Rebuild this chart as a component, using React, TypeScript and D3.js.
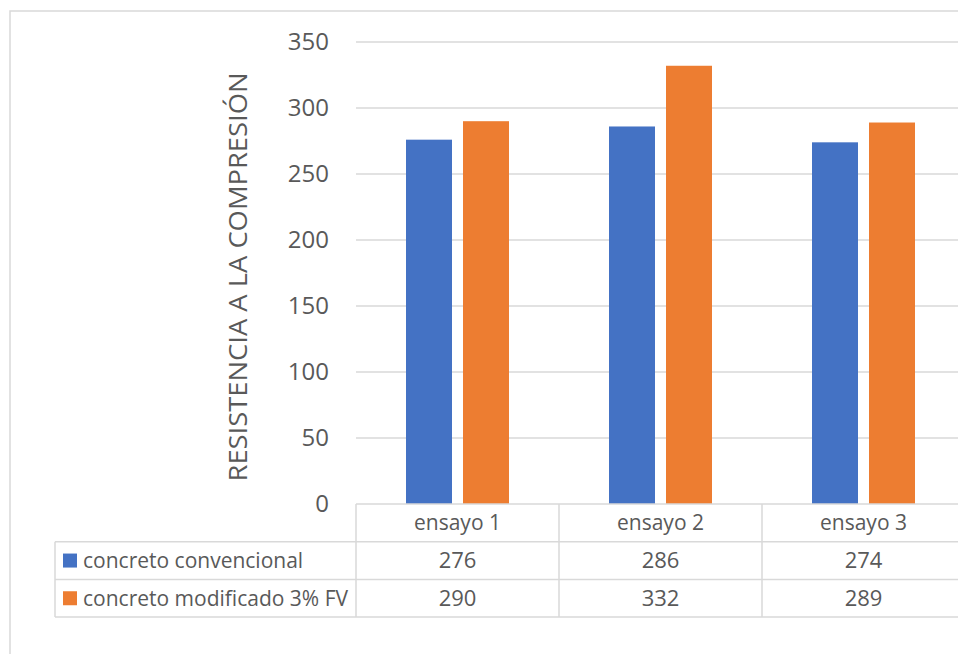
import React from "react";
import * as d3 from "d3";

const categories = ["ensayo 1", "ensayo 2", "ensayo 3"];
const seriesNames = ["concreto convencional", "concreto modificado 3% FV"];
const convencional = [276, 286, 274];
const modificado = [290, 332, 289];
const yTicks = [0, 50, 100, 150, 200, 250, 300, 350];
const colors = ["#4472C4", "#ED7D31"];
const yTitle = "RESISTENCIA A LA COMPRESIÓN";

export default function App() {
  const W = 958, H = 654;
  const plotL = 356, plotR = 965, plotT = 42, plotB = 504;
  const rowH = 37.7;
  const legendL = 55;
  const font = "'Open Sans', 'Noto Sans', sans-serif";
  const textColor = "#595959";
  const gridColor = "#d9d9d9";

  const y = d3.scaleLinear().domain([0, 350]).range([plotB, plotT]);
  const x0 = d3.scaleBand().domain(categories).range([plotL, plotR]).paddingInner(0).paddingOuter(0);
  const bw = 46, gap = 11;
  const series = [convencional, modificado];

  return (
    <svg width={W} height={H} style={{ position: "absolute", left: 0, top: 0, background: "#fff" }} fontFamily={font}>
      <rect x={0} y={0} width={W} height={H} fill="#fff" />
      <rect x={10} y={11} width={W + 20} height={H + 20} fill="none" stroke={gridColor} strokeWidth={1.5} />
      {yTicks.filter((t) => t > 0).map((t) => (
        <line key={t} x1={plotL} x2={plotR} y1={y(t)} y2={y(t)} stroke={gridColor} strokeWidth={1.5} />
      ))}
      {yTicks.map((t) => (
        <text key={"l" + t} x={329} y={y(t)} dy="0.35em" textAnchor="end" fontSize={24} fill={textColor}>
          {t}
        </text>
      ))}
      <text
        transform={`translate(247,277) rotate(-90)`}
        textAnchor="middle"
        fontSize={25}
        fill={textColor}
        textLength={409}
        lengthAdjust="spacingAndGlyphs"
      >
        {yTitle}
      </text>
      {categories.map((c, i) => {
        const cx = (x0(c) as number) + x0.bandwidth() / 2;
        const groupW = bw * 2 + gap;
        return series.map((s, j) => (
          <rect
            key={c + j}
            x={cx - groupW / 2 + j * (bw + gap)}
            y={y(s[i])}
            width={bw}
            height={plotB - y(s[i])}
            fill={colors[j]}
          />
        ));
      })}
      <g stroke={gridColor} strokeWidth={1.5} fill="none">
        <line x1={plotL} x2={plotR} y1={plotB} y2={plotB} />
        <line x1={legendL} x2={plotR} y1={plotB + rowH} y2={plotB + rowH} />
        <line x1={legendL} x2={plotR} y1={plotB + 2 * rowH} y2={plotB + 2 * rowH} />
        <line x1={legendL} x2={plotR} y1={plotB + 3 * rowH} y2={plotB + 3 * rowH} />
        <line x1={legendL} x2={legendL} y1={plotB + rowH} y2={plotB + 3 * rowH} />
        {categories.map((c) => (
          <line key={"v" + c} x1={x0(c) as number} x2={x0(c) as number} y1={plotB} y2={plotB + 3 * rowH} />
        ))}
        <line x1={plotR} x2={plotR} y1={plotB} y2={plotB + 3 * rowH} />
      </g>
      {categories.map((c) => (
        <text
          key={"h" + c}
          x={(x0(c) as number) + x0.bandwidth() / 2}
          y={plotB + rowH / 2}
          dy="0.35em"
          textAnchor="middle"
          fontSize={21}
          fill={textColor}
        >
          {c}
        </text>
      ))}
      {series.map((s, j) => (
        <g key={"row" + j}>
          <rect x={63} y={plotB + rowH * (j + 1) + rowH / 2 - 7} width={14} height={14} fill={colors[j]} />
          <text x={83} y={plotB + rowH * (j + 1.5)} dy="0.35em" fontSize={21} fill={textColor}>
            {seriesNames[j]}
          </text>
          {categories.map((c, i) => (
            <text
              key={c}
              x={(x0(c) as number) + x0.bandwidth() / 2}
              y={plotB + rowH * (j + 1.5)}
              dy="0.35em"
              textAnchor="middle"
              fontSize={22}
              fill={textColor}
            >
              {s[i]}
            </text>
          ))}
        </g>
      ))}
    </svg>
  );
}
